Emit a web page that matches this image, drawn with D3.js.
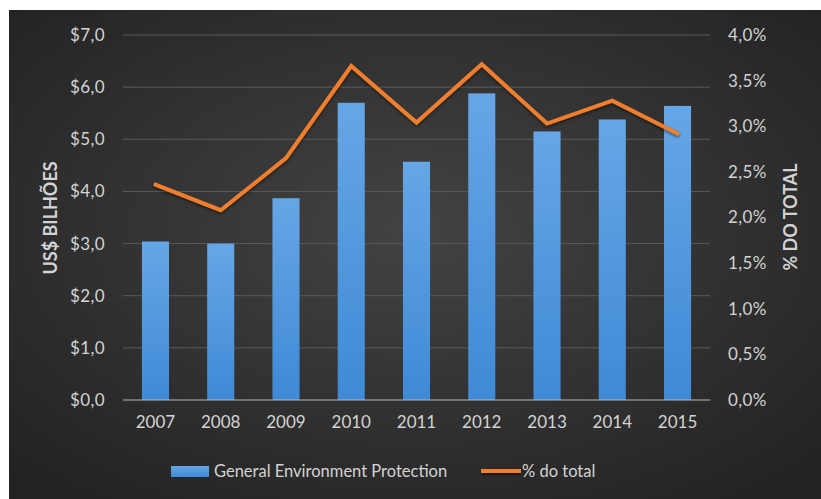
<!DOCTYPE html>
<html>
<head>
<meta charset="utf-8">
<script src="https://cdn.jsdelivr.net/npm/d3@7"></script>
<style>
  html, body { margin: 0; padding: 0; background: #ffffff; }
  svg { display: block; }
  text { font-family: Lato, "Open Sans", sans-serif; }
</style>
</head>
<body>
<svg id="chart" width="821" height="499"></svg>
<script>
// Spending on general environment protection (US$ billions) and its share of the total
const years = ["2007", "2008", "2009", "2010", "2011", "2012", "2013", "2014", "2015"];
const spending = [3.04, 3.00, 3.87, 5.70, 4.57, 5.88, 5.15, 5.38, 5.64];
const shareOfTotal = [2.36, 2.08, 2.65, 3.66, 3.04, 3.68, 3.03, 3.28, 2.92];
const leftTicks = [0, 1, 2, 3, 4, 5, 6, 7];
const rightTicks = [0, 0.5, 1, 1.5, 2, 2.5, 3, 3.5, 4];

const svg = d3.select("#chart");
const W = 821, H = 499;
const margin = { top: 35, right: 111, bottom: 99, left: 123 };
const plotW = W - margin.left - margin.right;
const plotH = H - margin.top - margin.bottom;
const textColor = "#d3d3d3";

const defs = svg.append("defs");
const bg = defs.append("radialGradient").attr("id", "bg")
  .attr("cx", "50%").attr("cy", "45%").attr("r", "70%");
bg.append("stop").attr("offset", "0%").attr("stop-color", "#434343");
bg.append("stop").attr("offset", "100%").attr("stop-color", "#222222");

const barGrad = defs.append("linearGradient").attr("id", "barGrad")
  .attr("x1", "0").attr("y1", "0").attr("x2", "0").attr("y2", "1");
barGrad.append("stop").attr("offset", "0%").attr("stop-color", "#66a6e6");
barGrad.append("stop").attr("offset", "100%").attr("stop-color", "#3f8ad6");

const shadow = defs.append("filter").attr("id", "shadow")
  .attr("filterUnits", "userSpaceOnUse")
  .attr("x", 0).attr("y", 0).attr("width", W).attr("height", H);
shadow.append("feDropShadow").attr("dx", 0).attr("dy", 1.5)
  .attr("stdDeviation", 1.5).attr("flood-color", "#000").attr("flood-opacity", 0.55);

// chart area background
svg.append("rect").attr("x", 9).attr("y", 10).attr("width", W - 9).attr("height", H - 10)
  .attr("fill", "url(#bg)");

const g = svg.append("g").attr("transform", `translate(${margin.left},${margin.top})`);

const x = d3.scaleBand().domain(years).range([0, plotW]).paddingInner(0.585).paddingOuter(0.29);
const yLeft = d3.scaleLinear().domain([0, 7]).range([plotH, 0]);
const yRight = d3.scaleLinear().domain([0, 4]).range([plotH, 0]);

// gridlines
g.append("g").selectAll("line").data(leftTicks.slice(1)).join("line")
  .attr("x1", 0).attr("x2", plotW)
  .attr("y1", d => yLeft(d)).attr("y2", d => yLeft(d))
  .attr("stroke", "#5a5a5a").attr("stroke-width", 1);

// left axis
const fmtMoney = d => "$" + d3.format(".1f")(d).replace(".", ",");
const axL = g.append("g").attr("transform", "translate(-10,0)")
  .call(d3.axisLeft(yLeft).tickValues(leftTicks).tickFormat(fmtMoney).tickSize(0).tickPadding(8));
axL.select(".domain").remove();
axL.selectAll("text").attr("fill", textColor).attr("font-size", 17).attr("letter-spacing", 0.4);

// right axis
const fmtPct = d => d3.format(".1f")(d).replace(".", ",") + "%";
const axR = g.append("g").attr("transform", `translate(${plotW + 10},0)`)
  .call(d3.axisRight(yRight).tickValues(rightTicks).tickFormat(fmtPct).tickSize(0).tickPadding(8));
axR.select(".domain").remove();
axR.selectAll("text").attr("fill", textColor).attr("font-size", 17).attr("letter-spacing", 0.4);

// bars
g.append("g").selectAll("rect").data(years).join("rect")
  .attr("x", d => x(d))
  .attr("width", x.bandwidth())
  .attr("y", (d, i) => yLeft(spending[i]))
  .attr("height", (d, i) => plotH - yLeft(spending[i]))
  .attr("fill", "url(#barGrad)");

// baseline
g.append("line").attr("x1", 0).attr("x2", plotW).attr("y1", plotH).attr("y2", plotH)
  .attr("stroke", "#b8b8b8").attr("stroke-width", 1.2);

// x axis labels
const axX = g.append("g").attr("transform", `translate(0,${plotH})`)
  .call(d3.axisBottom(x).tickSize(0).tickPadding(16));
axX.select(".domain").remove();
axX.selectAll("text").attr("fill", textColor).attr("font-size", 17);

// share line
const line = d3.line()
  .x((d, i) => x(years[i]) + x.bandwidth() / 2)
  .y(d => yRight(d));
g.append("path").datum(shareOfTotal)
  .attr("d", line)
  .attr("fill", "none")
  .attr("stroke", "#ef7f2d")
  .attr("stroke-width", 4)
  .attr("stroke-linejoin", "miter")
  .attr("stroke-linecap", "round")
  .attr("filter", "url(#shadow)");

// axis titles
svg.append("text")
  .attr("transform", "translate(57,218) rotate(-90)")
  .attr("text-anchor", "middle")
  .attr("fill", textColor).attr("font-size", 18).attr("font-weight", "bold")
  .text("US$ BILHÕES");
svg.append("text")
  .attr("transform", "translate(797,217) rotate(-90)")
  .attr("text-anchor", "middle")
  .attr("fill", textColor).attr("font-size", 18).attr("font-weight", "bold")
  .text("% DO TOTAL");

// legend
const leg = svg.append("g");
leg.append("rect").attr("x", 171).attr("y", 466).attr("width", 38).attr("height", 11)
  .attr("fill", "url(#barGrad)");
leg.append("text").attr("x", 214).attr("y", 471).attr("dy", "0.35em")
  .attr("fill", textColor).attr("font-size", 16.5)
  .text("General Environment Protection");
leg.append("line").attr("x1", 481).attr("x2", 521).attr("y1", 471).attr("y2", 471)
  .attr("stroke", "#ef7f2d").attr("stroke-width", 4).attr("filter", "url(#shadow)");
leg.append("text").attr("x", 522).attr("y", 471).attr("dy", "0.35em")
  .attr("fill", textColor).attr("font-size", 16.5)
  .text("% do total");
</script>
</body>
</html>
